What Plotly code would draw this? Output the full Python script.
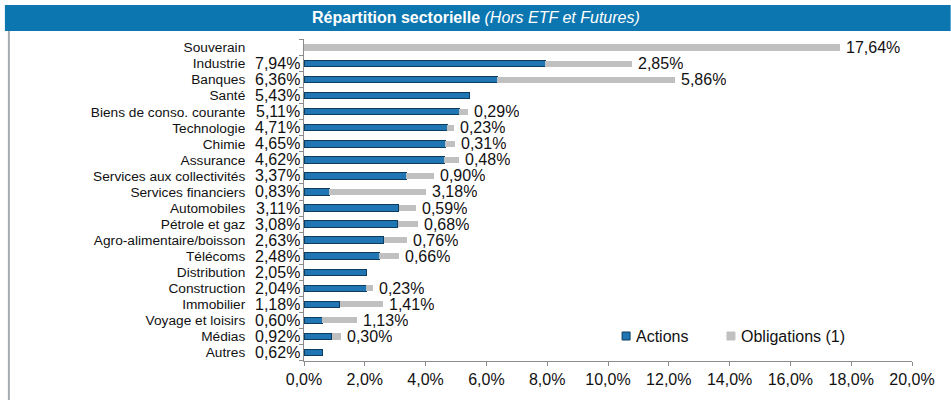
import plotly.graph_objects as go

categories = ["Souverain", "Industrie", "Banques", "Santé", "Biens de conso. courante",
              "Technologie", "Chimie", "Assurance", "Services aux collectivités",
              "Services financiers", "Automobiles", "Pétrole et gaz",
              "Agro-alimentaire/boisson", "Télécoms", "Distribution", "Construction",
              "Immobilier", "Voyage et loisirs", "Médias", "Autres"]
actions = [0, 7.94, 6.36, 5.43, 5.11, 4.71, 4.65, 4.62, 3.37, 0.83, 3.11, 3.08,
           2.63, 2.48, 2.05, 2.04, 1.18, 0.60, 0.92, 0.62]
obligations = [17.64, 2.85, 5.86, 0, 0.29, 0.23, 0.31, 0.48, 0.90, 3.18, 0.59, 0.68,
               0.76, 0.66, 0, 0.23, 1.41, 1.13, 0.30, 0]
xtick_vals = [0, 2, 4, 6, 8, 10, 12, 14, 16, 18, 20]
series_names = ["Actions", "Obligations (1)"]

W, H = 951, 400
ML, MR, MT, MB = 303.5, 38.7, 39, 39
PW, PH = W - ML - MR, H - MT - MB

def px(x):
    return (x - ML) / PW

def py(y):
    return (H - MB - y) / PH

FONT = "Liberation Sans, Arial, sans-serif"
BLUE = "#1F76B2"
BLUE_EDGE = "#0C3C5E"
GREY = "#C0C0C0"
TXT = "#111111"

def fmt(v, d=2):
    return f"{v:.{d}f}".replace(".", ",") + "%"

fig = go.Figure()
fig.add_trace(go.Bar(y=categories, x=actions, orientation="h", name=series_names[0],
                     marker=dict(color=BLUE, line=dict(color=BLUE_EDGE, width=1)),
                     width=0.4, showlegend=False))
fig.add_trace(go.Bar(y=categories, x=obligations, orientation="h", name=series_names[1],
                     marker=dict(color=GREY, line=dict(width=0)), width=0.38,
                     showlegend=False))

annotations = []
for c, a, o in zip(categories, actions, obligations):
    if a > 0:
        annotations.append(dict(x=0, y=c, xref="x", yref="y", text=fmt(a),
                                xanchor="right", yanchor="middle", xshift=-3,
                                height=15, borderpad=0,
                                showarrow=False, font=dict(size=16, color=TXT, family=FONT)))
    if o > 0:
        annotations.append(dict(x=a + o, y=c, xref="x", yref="y", text=fmt(o),
                                xanchor="left", yanchor="middle", xshift=5,
                                height=15, borderpad=0,
                                showarrow=False, font=dict(size=16, color=TXT, family=FONT)))

# title
annotations.append(dict(x=px(W / 2), y=py(18), xref="paper", yref="paper",
                        text="<b>Répartition sectorielle</b> <i>(Hors ETF et Futures)</i>",
                        showarrow=False, xanchor="center", yanchor="middle",
                        font=dict(size=16, color="white", family=FONT)))

# legend (drawn manually to match the compact reference layout)
legend_items = [(series_names[0], BLUE, BLUE_EDGE, 622, 634),
                (series_names[1], GREY, GREY, 727, 739)]
shapes = [
    dict(type="rect", xref="paper", yref="paper", x0=px(4), x1=px(951), y0=py(5), y1=py(31),
         fillcolor="#0B76B0", line=dict(width=0), layer="below"),
    dict(type="line", xref="paper", yref="paper", x0=px(8), x1=px(8), y0=py(31), y1=py(400),
         line=dict(color="#A6ABAF", width=2)),
]
for name, col, edge, sx, tx in legend_items:
    shapes.append(dict(type="rect", xref="paper", yref="paper", x0=px(sx), x1=px(sx + 8),
                       y0=py(340), y1=py(332), fillcolor=col, line=dict(color=edge, width=1)))
    annotations.append(dict(x=px(tx), y=py(336), xref="paper", yref="paper", text=name,
                            xanchor="left", yanchor="middle", showarrow=False,
                            font=dict(size=16, color=TXT, family=FONT)))

fig.update_layout(
    width=W, height=H,
    margin=dict(l=ML, r=MR, t=MT, b=MB, pad=0),
    barmode="stack",
    bargap=0.6,
    paper_bgcolor="white", plot_bgcolor="white",
    separators=", ",
    font=dict(family=FONT, size=13, color=TXT),
    showlegend=False,
    annotations=annotations,
    shapes=shapes,
    xaxis=dict(range=[0, 20], tickmode="array", tickvals=xtick_vals,
               ticktext=[fmt(v, 1) for v in xtick_vals],
               showgrid=False, zeroline=False, showline=True, linecolor="#8C8C8C", linewidth=1,
               ticks="outside", ticklen=4, tickcolor="#8C8C8C",
               tickfont=dict(size=16, family=FONT, color=TXT), fixedrange=True,
               automargin=False),
    yaxis=dict(categoryorder="array", categoryarray=categories, autorange="reversed",
               tickmode="array", tickvals=categories, ticktext=categories,
               showgrid=False, zeroline=False, showline=True, linecolor="#8C8C8C", linewidth=1,
               ticks="outside", ticklen=4, tickcolor="#8C8C8C", tickson="boundaries",
               ticklabelstandoff=55,
               tickfont=dict(size=13.7, family=FONT, color=TXT), fixedrange=True,
               automargin=False),
)

fig.write_html("out.html", config={"displayModeBar": False},
               post_script="document.body.style.margin='0';")
